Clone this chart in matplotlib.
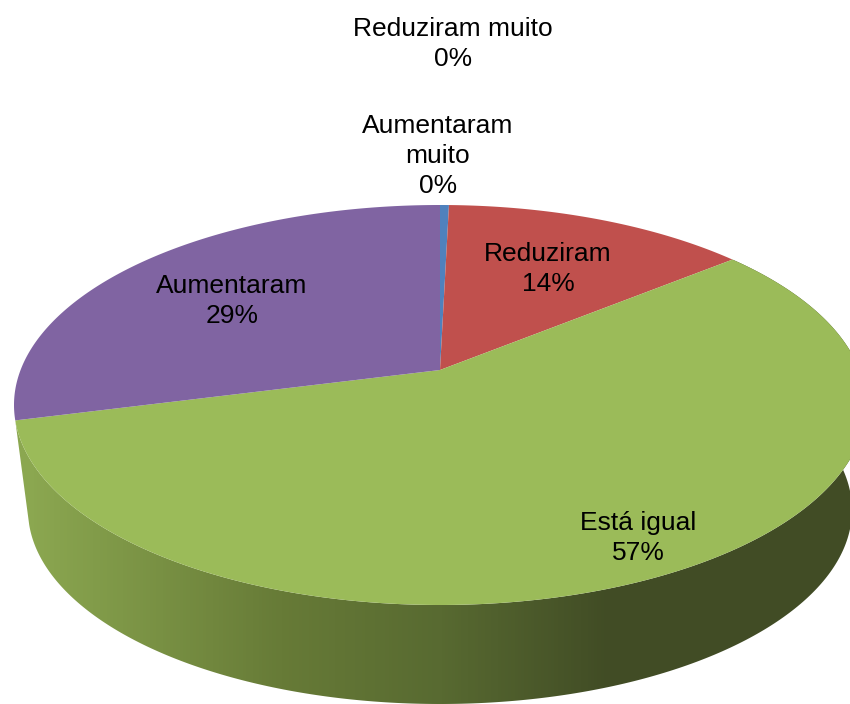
# -*- coding: utf-8 -*-
"""
Pizza 3D em perspectiva, desenhada em coordenadas de pixel.
"""
import numpy as np
import matplotlib
matplotlib.use('Agg')
import matplotlib.pyplot as plt
from matplotlib.colors import LinearSegmentedColormap
from matplotlib.patches import Polygon

categorias = ['Aumentaram\nmuito', 'Reduziram', 'Está igual', 'Aumentaram', 'Reduziram muito']
valores = [0.4, 13.7, 56.9, 29.0, 0.0]
cores = ['#4F81BD', '#C0504D', '#9BBB59', '#8064A2', '#F79646']
pos_rotulos = [(438, 156), (548, 269), (638, 538), (232, 301), (453, 44)]

# Gradiente da parede lateral da fatia verde
grad_x = [0, 30, 280, 440, 610, 850]
grad_cor = ['#8BA750', '#8BA750', '#677B37', '#586A31', '#414C25', '#414C25']

CX, CY, RX, RY = 440, 405, 426, 200
CY_BASE, RX_BASE, RY_BASE = 510, 412, 194
PERSP = 0.175


def disco(theta):
    # Circulo unitario com o centro deslocado pela perspectiva
    u = np.sin(theta)
    v = np.cos(theta)
    den = 1 + PERSP * v
    return u * np.sqrt(1 - PERSP ** 2) / den, (v + PERSP) / den


def topo(theta):
    u, v = disco(theta)
    return np.column_stack([CX + RX * u, CY - RY * v])


def base(theta):
    u, v = disco(theta)
    return np.column_stack([CX + RX_BASE * u, CY_BASE - RY_BASE * v])


def main():
    fig = plt.figure(figsize=(8.5, 7.04), dpi=100)
    ax = fig.add_axes([0, 0, 1, 1])
    ax.set_xlim(0, 850)
    ax.set_ylim(704, 0)
    ax.axis('off')

    limites = 2 * np.pi * np.cumsum([0] + valores) / sum(valores)

    # Parede lateral
    th = np.linspace(limites[2], limites[3], 300)
    parede = np.vstack([topo(th), base(th)[::-1]])
    pos = np.array(grad_x) / grad_x[-1]
    cmap = LinearSegmentedColormap.from_list('parede', list(zip(pos, grad_cor)))
    img = ax.imshow(np.linspace(0, 1, 850).reshape(1, -1), cmap=cmap, aspect='auto',
                    extent=(0, 850, 704, 0), zorder=1)
    clip = Polygon(parede, closed=True, transform=ax.transData)
    img.set_clip_path(clip)
    ax.set_xlim(0, 850)
    ax.set_ylim(704, 0)

    # Fatias do topo
    apice = np.array([[CX, CY - RY * PERSP]])
    for i in range(len(valores)):
        if valores[i] == 0:
            continue
        th = np.linspace(limites[i], limites[i + 1], 200)
        ax.add_patch(Polygon(np.vstack([apice, topo(th)]), closed=True, facecolor=cores[i],
                             edgecolor='none', zorder=2))

    # Rotulos
    for i in range(len(valores)):
        ax.text(pos_rotulos[i][0], pos_rotulos[i][1], f'{categorias[i]}\n{valores[i]:.0f}%',
                ha='center', va='center', ma='center', fontsize=19, linespacing=1.32,
                family='Liberation Sans', color='black', zorder=3)

    fig.savefig('out.png', dpi=100)


main()
